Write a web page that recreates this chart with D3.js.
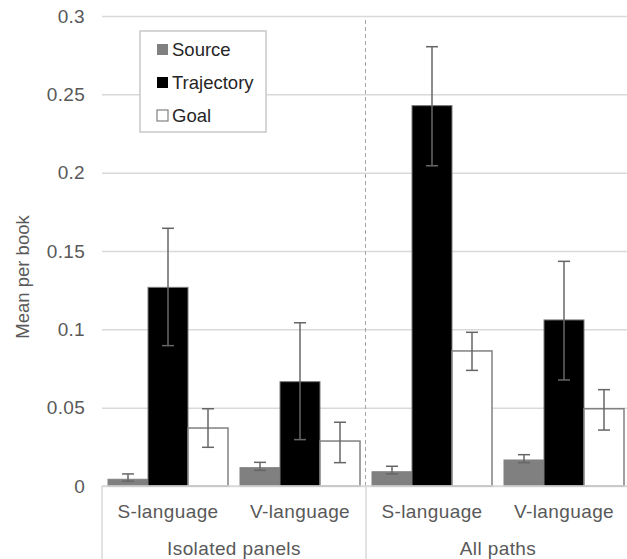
<!DOCTYPE html>
<html>
<head>
<meta charset="utf-8">
<script src="https://cdn.jsdelivr.net/npm/d3@7"></script>
<style>
  html, body { margin: 0; padding: 0; background: #fff; }
  svg { display: block; font-family: "Liberation Sans", Arial, Helvetica, sans-serif; }
</style>
</head>
<body>
<div id="grafico"></div>
<script>
// dados -----------------------------------------------------------------------
const grupos = ["Isolated panels", "All paths"];
const linguas = ["S-language", "V-language"];
const series = ["Source", "Trajectory", "Goal"];
const ticks_y = [0, 0.05, 0.1, 0.15, 0.2, 0.25, 0.3];

// médias por subgrupo (Isolated S, Isolated V, All S, All V)
const media_source = [0.0043, 0.0117, 0.0091, 0.0166];
const media_trajectory = [0.1268, 0.0666, 0.2428, 0.1060];
const media_goal = [0.0370, 0.0287, 0.0862, 0.0493];

// barras de erro (inferior / superior)
const erro_inf_source = [0.0030, 0.0100, 0.0077, 0.0149];
const erro_sup_source = [0.0077, 0.0151, 0.0126, 0.0200];
const erro_inf_trajectory = [0.0896, 0.0296, 0.2044, 0.0677];
const erro_sup_trajectory = [0.1645, 0.1042, 0.2804, 0.1434];
const erro_inf_goal = [0.0247, 0.0149, 0.0738, 0.0357];
const erro_sup_goal = [0.0493, 0.0407, 0.0981, 0.0615];

// montagem da tabela
const subgrupos = grupos.flatMap(g => linguas.map(l => g + "|" + l));
const medias = [media_source, media_trajectory, media_goal];
const inf = [erro_inf_source, erro_inf_trajectory, erro_inf_goal];
const sup = [erro_sup_source, erro_sup_trajectory, erro_sup_goal];
const dados = [];
subgrupos.forEach((sg, i) => {
  series.forEach((s, j) => {
    dados.push({ sg, serie: s, valor: medias[j][i], baixo: inf[j][i], alto: sup[j][i] });
  });
});

// medidas ---------------------------------------------------------------------
const largura = 627, altura = 559;
const margem = { superior: 16, inferior: 73, esquerda: 102, direita: -3 };
const fonte = 19;
const cor_texto = "#595959";
const cor_grade = "#d9d9d9";

const cores = { Source: "#808080", Trajectory: "#000000", Goal: "#ffffff" };
const contornos = { Source: "#808080", Trajectory: "#7a7a7a", Goal: "#808080" };

const escala_x = d3.scaleBand(subgrupos, [margem.esquerda, largura - margem.direita]);
const escala_serie = d3.scaleBand(series, [6, escala_x.bandwidth() - 6]);
const escala_y = d3.scaleLinear([0, 0.3], [altura - margem.inferior, margem.superior]);

const svg = d3.select("#grafico").append("svg")
    .attr("width", largura)
    .attr("height", altura)
    .attr("viewBox", [0, 0, largura, altura]);

// grade e eixo y
svg.append("g")
    .attr("class", "eixo_y")
    .attr("transform", `translate(${margem.esquerda},0)`)
    .call(d3.axisLeft(escala_y).tickValues(ticks_y).tickFormat(d3.format("")).tickSize(0).tickPadding(17))
    .call(g => g.select(".domain").remove())
    .call(g => g.selectAll(".tick text")
        .attr("fill", cor_texto)
        .attr("font-size", fonte)
        .attr("letter-spacing", 0.3)
        .attr("font-family", "Liberation Sans, Arial, sans-serif"))
    .call(g => g.selectAll(".tick line")
        .attr("x2", largura - margem.esquerda)
        .attr("stroke", cor_grade)
        .attr("stroke-width", 1.5));

// linha tracejada entre os grupos
const divisao = escala_x(grupos[1] + "|" + linguas[0]);
svg.append("line")
    .attr("x1", divisao - 0.5).attr("x2", divisao - 0.5)
    .attr("y1", escala_y(0.3) + 4).attr("y2", escala_y(0))
    .attr("stroke", "#a6a6a6")
    .attr("stroke-width", 1)
    .attr("stroke-dasharray", "4,3");

// barras
svg.append("g")
    .attr("class", "barras")
  .selectAll("rect")
  .data(dados)
  .join("rect")
    .attr("x", d => escala_x(d.sg) + escala_serie(d.serie))
    .attr("y", d => escala_y(d.valor))
    .attr("width", escala_serie.bandwidth())
    .attr("height", d => escala_y(0) - escala_y(d.valor))
    .attr("fill", d => cores[d.serie])
    .attr("stroke", d => contornos[d.serie])
    .attr("stroke-width", d => d.serie === "Goal" ? 1.5 : 1);

// barras de erro
const erro = svg.append("g")
    .attr("class", "erros")
    .attr("stroke", "#666")
    .attr("stroke-width", 1.5)
  .selectAll("g")
  .data(dados)
  .join("g")
    .attr("transform", d => `translate(${escala_x(d.sg) + escala_serie(d.serie) + escala_serie.bandwidth() / 2},0)`);
erro.append("line")
    .attr("y1", d => escala_y(d.baixo))
    .attr("y2", d => escala_y(d.alto));
erro.append("line")
    .attr("x1", -6).attr("x2", 6)
    .attr("y1", d => escala_y(d.alto)).attr("y2", d => escala_y(d.alto));
erro.append("line")
    .attr("x1", -6).attr("x2", 6)
    .attr("y1", d => escala_y(d.baixo)).attr("y2", d => escala_y(d.baixo));

// eixo x (caixa de categorias)
const base = escala_y(0);
const eixo_x = svg.append("g")
    .attr("class", "eixo_x")
    .attr("stroke", cor_grade)
    .attr("stroke-width", 1.5);
eixo_x.append("line")
    .attr("x1", margem.esquerda).attr("x2", largura)
    .attr("y1", base).attr("y2", base);
[margem.esquerda, divisao].forEach(x => {
  eixo_x.append("line")
      .attr("x1", x).attr("x2", x)
      .attr("y1", base).attr("y2", altura);
});

svg.append("g")
    .attr("fill", cor_texto)
    .attr("font-size", fonte)
    .attr("letter-spacing", 0.4)
    .attr("text-anchor", "middle")
  .selectAll("text")
  .data(subgrupos)
  .join("text")
    .attr("x", d => escala_x(d) + escala_x.bandwidth() / 2)
    .attr("y", base + 32)
    .text(d => d.split("|")[1]);

svg.append("g")
    .attr("fill", cor_texto)
    .attr("font-size", fonte)
    .attr("letter-spacing", 0.4)
    .attr("text-anchor", "middle")
  .selectAll("text")
  .data(grupos)
  .join("text")
    .attr("x", g => escala_x(g + "|" + linguas[0]) + escala_x.bandwidth())
    .attr("y", base + 69)
    .text(g => g);

// rótulo do eixo y
svg.append("text")
    .attr("transform", `translate(29,${(escala_y(0.1) + escala_y(0.2)) / 2 + 26}) rotate(-90)`)
    .attr("text-anchor", "middle")
    .attr("fill", cor_texto)
    .attr("font-size", 18.5)
    .text("Mean per book");

// legenda
const legenda = svg.append("g").attr("transform", "translate(140,31)");
legenda.append("rect")
    .attr("width", 126).attr("height", 101)
    .attr("fill", "#fff")
    .attr("stroke", "#c8c8c8")
    .attr("stroke-width", 1.5);
const item = legenda.selectAll("g.item")
  .data(series)
  .join("g")
    .attr("class", "item")
    .attr("transform", (d, i) => `translate(17,${19 + i * 33})`);
item.append("rect")
    .attr("y", -6).attr("width", 11).attr("height", 11)
    .attr("fill", d => cores[d])
    .attr("stroke", d => d === "Goal" ? "#808080" : "none")
    .attr("stroke-width", 1.2);
item.append("text")
    .attr("x", 15)
    .attr("dy", "0.35em")
    .attr("fill", "#262626")
    .attr("font-size", 18.5)
    .text(d => d);
</script>
</body>
</html>
